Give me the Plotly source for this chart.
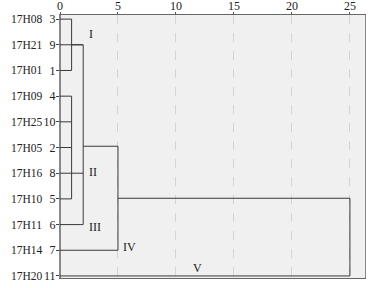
import plotly.graph_objects as go

# Leaves, top to bottom
leaf_names = ["17H08", "17H21", "17H01", "17H09", "17H25", "17H05",
              "17H16", "17H10", "17H11", "17H14", "17H20"]
leaf_nums = ["3", "9", "1", "4", "10", "2", "8", "5", "6", "7", "11"]

# Links of the dendrogram: children positions (row index), start distance, merge distance
link_children_y = [[0, 2], [1, 1, 6, 8], [3, 4, 5, 6, 7], [4.95, 9], [6.975, 10]]
link_children_x0 = [[0, 0], [0, 1, 1, 0], [0, 0, 0, 0, 0], [2, 0], [5, 0]]
link_heights = [1, 2, 1, 5, 25]

# Cluster labels
cluster_labels = ["I", "II", "III", "IV", "V"]
cluster_x = [2.68, 2.85, 3.03, 6.0, 11.85]
cluster_y = [0.58, 5.95, 8.09, 8.87, 9.69]

xticks = [0, 5, 10, 15, 20, 25]

xs, ys = [], []
for cy, cx0, h in zip(link_children_y, link_children_x0, link_heights):
    for y, x0 in zip(cy, cx0):
        xs += [x0, h, None]
        ys += [y, y, None]
    xs += [h, h, None]
    ys += [min(cy), max(cy), None]

font = "Liberation Serif, Times New Roman, serif"

fig = go.Figure()
fig.add_trace(go.Scatter(x=xs, y=ys, mode="lines",
                         line=dict(color="#3a3a3a", width=1),
                         hoverinfo="skip", showlegend=False))

for t, x, y in zip(cluster_labels, cluster_x, cluster_y):
    fig.add_annotation(x=x, y=y, text=t, showarrow=False,
                       font=dict(family=font, size=12, color="#222"),
                       xanchor="center", yanchor="middle")

for i, n in enumerate(leaf_names):
    fig.add_annotation(x=-0.167, xref="paper", y=i, yref="y", text=n,
                       showarrow=False, xanchor="left", yanchor="middle",
                       font=dict(family=font, size=11.5, color="#222"))

fig.update_layout(
    width=371, height=288,
    margin=dict(l=60, r=6, t=15, b=10),
    paper_bgcolor="white", plot_bgcolor="#f0f0f0",
    font=dict(family=font, size=12, color="#222"),
    xaxis=dict(side="top", range=[0, 26.3], tickvals=xticks, automargin=False,
               ticks="outside", ticklen=2, tickcolor="#555", ticklabelstandoff=-3,
               showline=True, linecolor="#666", linewidth=1, mirror=True,
               showgrid=True, gridcolor="#d4d4d4", griddash="dash", gridwidth=1,
               zeroline=False, tickfont=dict(family=font, size=12, color="#222")),
    yaxis=dict(range=[10.08, -0.16], tickvals=list(range(11)), ticktext=leaf_nums,
               automargin=False, ticklabelstandoff=-2,
               ticks="outside", ticklen=3, tickcolor="#444",
               showline=True, linecolor="#888", linewidth=1, mirror=True,
               showgrid=False, zeroline=False,
               tickfont=dict(family=font, size=12, color="#222")),
)
# dark left axis edge
fig.add_shape(type="line", xref="x", yref="paper", x0=0, x1=0, y0=0, y1=1,
              line=dict(color="#222", width=1))

fig.write_html("out.html", config={"displayModeBar": False},
               post_script="document.body.style.margin='0';document.body.style.padding='0';")
